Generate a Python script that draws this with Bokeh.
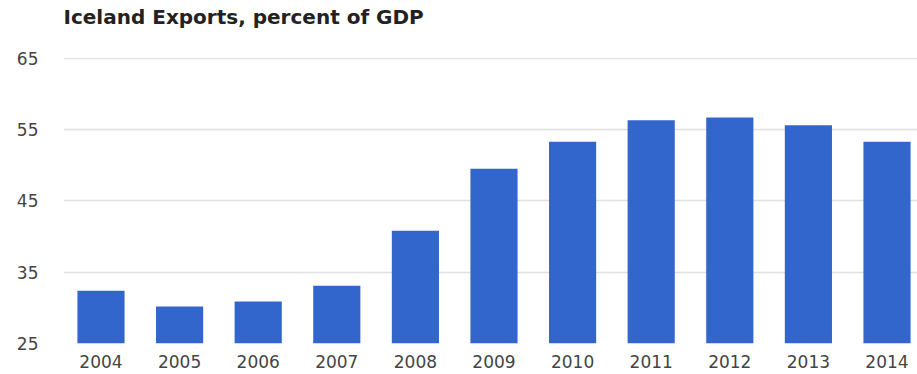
from bokeh.plotting import figure
from bokeh.models import FixedTicker, Range1d, ColumnDataSource, Title
from bokeh.embed import file_html
from bokeh.resources import INLINE

# ---- data ----
years = [2004, 2005, 2006, 2007, 2008, 2009, 2010, 2011, 2012, 2013, 2014]
exports_pct_gdp = [32.4, 30.2, 30.9, 33.1, 40.8, 49.5, 53.3, 56.3, 56.7, 55.6, 53.3]
y_ticks = [25, 35, 45, 55, 65]
x_tick_labels = [str(y) for y in years]
title_text = "Iceland Exports, percent of GDP"

BAR_COLOR = "#3366cc"
BASELINE = 25

src = ColumnDataSource(dict(year=years, value=exports_pct_gdp))

p = figure(
    width=917, height=374,
    output_backend="svg", toolbar_location=None,
    x_range=Range1d(2003.523, 2014.388),
    y_range=Range1d(25, 65.1),
    min_border_left=63, min_border_right=0,
    min_border_top=57, min_border_bottom=31,
    title=None,
)
p.outline_line_color = None
p.background_fill_color = "white"
p.border_fill_color = "white"

# empty spacer between title and plot frame, then the real title above it
spacer = Title(text=" ", text_font_size="1px", standoff=24)
p.add_layout(spacer, "above")
main_title = Title(text=title_text, text_font="DejaVu Sans", text_font_style="bold",
                   text_font_size="20px", text_color="#222222", align="left",
                   vertical_align="top", standoff=0)
p.add_layout(main_title, "above")

p.vbar(x="year", top="value", bottom=BASELINE, width=0.6, source=src,
       fill_color=BAR_COLOR, line_color=None)

# axes
p.xaxis.ticker = FixedTicker(ticks=years)
p.xaxis.major_label_overrides = {y: s for y, s in zip(years, x_tick_labels)}
p.yaxis.ticker = FixedTicker(ticks=y_ticks)
for ax in (p.xaxis[0], p.yaxis[0]):
    ax.axis_line_color = None
    ax.major_tick_line_color = None
    ax.minor_tick_line_color = None
    ax.major_label_text_font = "DejaVu Sans"
    ax.major_label_text_font_size = "17px"
    ax.major_label_text_color = "#444444"
p.yaxis.major_label_standoff = 19
p.xaxis.major_label_standoff = 5

p.xgrid.grid_line_color = None
p.ygrid.grid_line_color = "#e0e0e0"
p.ygrid.grid_line_width = 1.5

open("out.html", "w").write(file_html(p, INLINE))
